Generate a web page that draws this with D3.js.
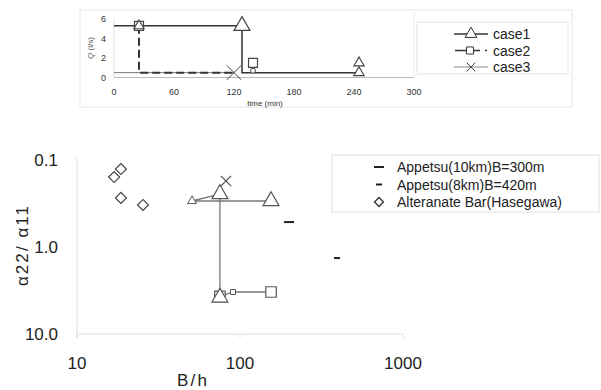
<!DOCTYPE html>
<html>
<head>
<meta charset="utf-8">
<script src="https://cdn.jsdelivr.net/npm/d3@7"></script>
<style>
  body { margin: 0; background: #fff; }
  svg { font-family: "Liberation Sans", Arial, sans-serif; }
</style>
</head>
<body>
<div id="chart"></div>
<script>
// ---- top chart: discharge hydrograph ----
const timeTicks = [0, 60, 120, 180, 240, 300];
const qTicks = [0, 2, 4, 6];
const case1Line = [[0, 5.3], [128, 5.3], [128, 0.5], [245, 0.5]];
const case1Marks = [[25, 5.3], [128, 5.3], [245, 1.5], [245, 0.5]];
const case2Line = [[25, 5.3], [25, 0.5], [120, 0.5]];
const case2Marks = [[25, 5.3], [139, 1.5]];
const case2Dots = [[139, 0.7]];
const case3Line = [[0, 0.5], [120, 0.5]];
const case3Marks = [[120, 0.5]];
const topLegend = ['case1', 'case2', 'case3'];

// ---- bottom chart: alpha22/alpha11 vs B/h ----
const bhTicks = [10, 100, 1000];
const ratioTicks = [0.1, 1.0, 10.0];
const hasegawa = [[16.9, 0.157], [18.6, 0.127], [18.6, 0.273], [25.4, 0.329]];
const triBig = [[75.3, 0.246], [155, 0.296], [75.3, 3.8]];
const triSmall = [[50.8, 0.296]];
const sqBig = [[75.3, 3.7], [155, 3.29]];
const sqSmall = [[90.6, 3.29]];
const crossPts = [[82, 0.174]];
const pathUpper1 = [[50.8, 0.296], [75.3, 0.246]];
const pathUpper2 = [[50.8, 0.296], [155, 0.296]];
const pathVertical = [[75.3, 0.246], [75.3, 3.8]];
const pathLower = [[75.3, 3.7], [90.6, 3.29], [155, 3.29]];
const appetsu10 = [[200, 0.517]];
const appetsu8 = [[394, 1.34]];
const bottomLegend = ['Appetsu(10km)B=300m', 'Appetsu(8km)B=420m', 'Alteranate Bar(Hasegawa)'];

const svg = d3.select('#chart').append('svg').attr('width', 601).attr('height', 390);

// ================= top chart =================
const topG = svg.append('g');
topG.append('rect').attr('x', 80).attr('y', 10).attr('width', 492).attr('height', 97)
  .attr('fill', 'none').attr('stroke', '#e6e6e6');

const tx = d3.scaleLinear().domain([0, 300]).range([114, 414]);
const ty = d3.scaleLinear().domain([0, 6]).range([77.5, 19]);

topG.append('line').attr('x1', tx(0)).attr('x2', tx(300)).attr('y1', ty(0)).attr('y2', ty(0)).attr('stroke', '#bbb');
topG.append('line').attr('x1', tx(0)).attr('x2', tx(0)).attr('y1', ty(6)).attr('y2', ty(0)).attr('stroke', '#ddd');
topG.append('line').attr('x1', tx(300)).attr('x2', tx(300)).attr('y1', 12).attr('y2', ty(0)).attr('stroke', '#eee');

topG.selectAll('.xt').data(timeTicks).join('text')
  .attr('x', d => tx(d)).attr('y', 95).attr('text-anchor', 'middle')
  .attr('font-size', 9).attr('fill', '#333').text(d => d);
topG.selectAll('.yt').data(qTicks).join('text')
  .attr('x', 106).attr('y', d => ty(d) + 3).attr('text-anchor', 'end')
  .attr('font-size', 9).attr('fill', '#333').text(d => d);

topG.append('text').attr('x', 265).attr('y', 106).attr('text-anchor', 'middle')
  .attr('font-size', 8).attr('fill', '#333').text('time (min)');
const ql = topG.append('text').attr('transform', 'translate(93,48) rotate(-90)')
  .attr('text-anchor', 'middle').attr('font-size', 8).attr('fill', '#555');
ql.append('tspan').attr('font-style', 'italic').text('Q');
ql.append('tspan').text(' (l/s)');

const tline = d3.line().x(d => tx(d[0])).y(d => ty(d[1]));
topG.append('path').attr('d', tline(case3Line)).attr('fill', 'none').attr('stroke', '#777').attr('stroke-width', 1);
topG.append('path').attr('d', tline(case2Line)).attr('fill', 'none').attr('stroke', '#333')
  .attr('stroke-width', 2).attr('stroke-dasharray', '8,4');
topG.append('path').attr('d', tline(case1Line)).attr('fill', 'none').attr('stroke', '#333').attr('stroke-width', 1.5);

const triSym = d3.symbol().type(d3.symbolTriangle);
const sqSym = d3.symbol().type(d3.symbolSquare);
const xSym = d3.symbol().type(d3.symbolTimes);

topG.selectAll('.c2m').data(case2Marks).join('path')
  .attr('transform', d => `translate(${tx(d[0])},${ty(d[1])})`)
  .attr('d', sqSym.size(80)()).attr('fill', '#fff').attr('stroke', '#444').attr('stroke-width', 1.2);
topG.selectAll('.c2d').data(case2Dots).join('circle')
  .attr('cx', d => tx(d[0])).attr('cy', d => ty(d[1])).attr('r', 2.5)
  .attr('fill', '#fff').attr('stroke', '#444');
topG.selectAll('.c1m').data(case1Marks).join('path')
  .attr('transform', (d, i) => `translate(${tx(d[0])},${ty(d[1])})`)
  .attr('d', (d, i) => triSym.size(i === 1 ? 110 : 45)())
  .attr('fill', '#fff').attr('stroke', '#444').attr('stroke-width', 1.2);
topG.selectAll('.c3m').data(case3Marks).join('path')
  .attr('transform', d => `translate(${tx(d[0])},${ty(d[1])})`)
  .attr('d', xSym.size(140)()).attr('fill', 'none').attr('stroke', '#444').attr('stroke-width', 1);

// top legend
topG.append('rect').attr('x', 417).attr('y', 22).attr('width', 151).attr('height', 52)
  .attr('fill', '#fff').attr('stroke', '#e2e2e2');
const tlg = topG.selectAll('.tl').data(topLegend).join('g')
  .attr('transform', (d, i) => `translate(0,${34 + i * 16.5})`);
tlg.append('text').attr('x', 493).attr('y', 5).attr('font-size', 14).attr('fill', '#222').text(d => d);
tlg.each(function(d, i) {
  const g = d3.select(this);
  if (i === 0) {
    g.append('line').attr('x1', 454).attr('x2', 488).attr('stroke', '#333').attr('stroke-width', 1.5);
    g.append('path').attr('transform', 'translate(471,0)').attr('d', triSym.size(60)())
      .attr('fill', '#fff').attr('stroke', '#333');
  } else if (i === 1) {
    g.append('line').attr('x1', 455).attr('x2', 480).attr('stroke', '#333').attr('stroke-width', 1.5);
    g.append('line').attr('x1', 485).attr('x2', 487).attr('stroke', '#333').attr('stroke-width', 1.5);
    g.append('path').attr('transform', 'translate(470,0)').attr('d', sqSym.size(50)())
      .attr('fill', '#fff').attr('stroke', '#333');
  } else {
    g.append('line').attr('x1', 454).attr('x2', 488).attr('stroke', '#888').attr('stroke-width', 1);
    g.append('path').attr('transform', 'translate(471,0)').attr('d', xSym.size(50)())
      .attr('fill', 'none').attr('stroke', '#444');
  }
});

// ================= bottom chart =================
const botG = svg.append('g');
const bx = d3.scaleLog().domain([10, 1000]).range([77, 403]);
const by = d3.scaleLog().domain([0.1, 10]).range([160, 334]);

botG.append('line').attr('x1', bx(10)).attr('x2', bx(1000)).attr('y1', by(10)).attr('y2', by(10)).attr('stroke', '#ddd');
botG.append('line').attr('x1', bx(10)).attr('x2', bx(10)).attr('y1', by(0.1) - 2).attr('y2', by(10) + 4).attr('stroke', '#ddd');
botG.selectAll('.bxt').data(bhTicks).join('line')
  .attr('x1', d => bx(d)).attr('x2', d => bx(d)).attr('y1', by(10)).attr('y2', by(10) + 4).attr('stroke', '#ddd');

botG.selectAll('.bxl').data(bhTicks).join('text')
  .attr('x', d => bx(d)).attr('y', 369).attr('text-anchor', 'middle')
  .attr('font-size', 17).attr('fill', '#222').text(d => d);
botG.selectAll('.byl').data(ratioTicks).join('text')
  .attr('x', 58).attr('y', d => by(d) + 6).attr('text-anchor', 'end')
  .attr('font-size', 17).attr('fill', '#222').text(d => d.toFixed(1));

botG.append('text').attr('x', 192).attr('y', 386).attr('text-anchor', 'middle')
  .attr('font-size', 17).attr('fill', '#222').attr('textLength', 30).text('B/h');
botG.append('text').attr('transform', 'translate(28,246) rotate(-90)').attr('text-anchor', 'middle')
  .attr('font-size', 17).attr('fill', '#222').attr('textLength', 80).text('α22/ α11');

const bline = d3.line().x(d => bx(d[0])).y(d => by(d[1]));
[pathUpper1, pathUpper2, pathVertical, pathLower].forEach(p => {
  botG.append('path').attr('d', bline(p)).attr('fill', 'none').attr('stroke', '#777').attr('stroke-width', 1.3);
});

botG.selectAll('.sqb').data(sqBig).join('path')
  .attr('transform', d => `translate(${bx(d[0])},${by(d[1])})`)
  .attr('d', sqSym.size(110)()).attr('fill', '#fff').attr('stroke', '#555').attr('stroke-width', 1.2);
botG.selectAll('.sqs').data(sqSmall).join('path')
  .attr('transform', d => `translate(${bx(d[0])},${by(d[1])})`)
  .attr('d', sqSym.size(25)()).attr('fill', '#fff').attr('stroke', '#555').attr('stroke-width', 1);
botG.selectAll('.trb').data(triBig).join('path')
  .attr('transform', d => `translate(${bx(d[0])},${by(d[1])})`)
  .attr('d', triSym.size(110)()).attr('fill', '#fff').attr('stroke', '#555').attr('stroke-width', 1.2);
botG.selectAll('.trs').data(triSmall).join('path')
  .attr('transform', d => `translate(${bx(d[0])},${by(d[1])})`)
  .attr('d', triSym.size(35)()).attr('fill', '#fff').attr('stroke', '#555').attr('stroke-width', 1);
botG.selectAll('.crs').data(crossPts).join('path')
  .attr('transform', d => `translate(${bx(d[0])},${by(d[1])})`)
  .attr('d', xSym.size(70)()).attr('fill', 'none').attr('stroke', '#444').attr('stroke-width', 1.1);
botG.selectAll('.hsg').data(hasegawa).join('path')
  .attr('transform', d => `translate(${bx(d[0])},${by(d[1])}) rotate(45)`)
  .attr('d', sqSym.size(60)()).attr('fill', '#fff').attr('stroke', '#444').attr('stroke-width', 1.2);
botG.selectAll('.a10').data(appetsu10).join('line')
  .attr('x1', d => bx(d[0]) - 5).attr('x2', d => bx(d[0]) + 5)
  .attr('y1', d => by(d[1])).attr('y2', d => by(d[1])).attr('stroke', '#222').attr('stroke-width', 2);
botG.selectAll('.a8').data(appetsu8).join('line')
  .attr('x1', d => bx(d[0]) - 3).attr('x2', d => bx(d[0]) + 3)
  .attr('y1', d => by(d[1])).attr('y2', d => by(d[1])).attr('stroke', '#222').attr('stroke-width', 2);

// bottom legend
botG.append('rect').attr('x', 332).attr('y', 155).attr('width', 267).attr('height', 57)
  .attr('fill', '#fff').attr('stroke', '#e2e2e2');
const blg = botG.selectAll('.bl').data(bottomLegend).join('g')
  .attr('transform', (d, i) => `translate(0,${167 + i * 17.5})`);
blg.append('text').attr('x', 397).attr('y', 5).attr('font-size', 14).attr('fill', '#222').text(d => d);
blg.each(function(d, i) {
  const g = d3.select(this);
  if (i === 0) {
    g.append('line').attr('x1', 374).attr('x2', 384).attr('stroke', '#222').attr('stroke-width', 2);
  } else if (i === 1) {
    g.append('line').attr('x1', 376).attr('x2', 382).attr('stroke', '#222').attr('stroke-width', 2);
  } else {
    g.append('path').attr('transform', 'translate(379,0) rotate(45)').attr('d', sqSym.size(40)())
      .attr('fill', '#fff').attr('stroke', '#333').attr('stroke-width', 1.3);
  }
});
</script>
</body>
</html>
